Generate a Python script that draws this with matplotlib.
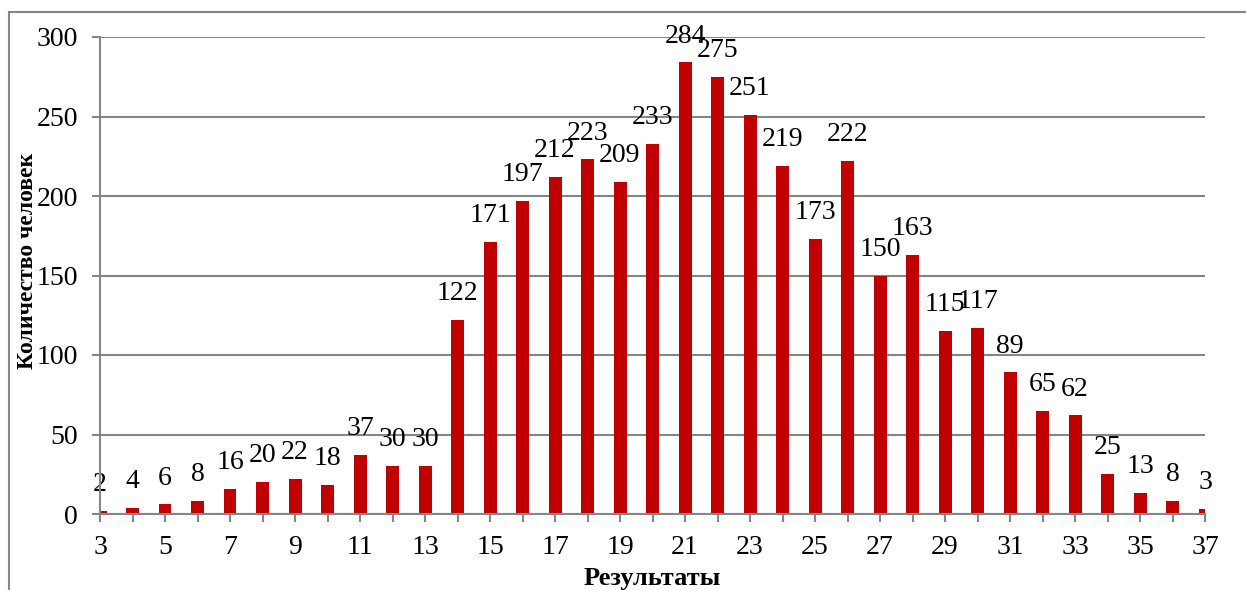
import matplotlib.pyplot as plt
import matplotlib.patches as patches
import numpy as np

scores = list(range(3, 38))
counts = [2, 4, 6, 8, 16, 20, 22, 18, 37, 30, 30, 122, 171, 197, 212, 223, 209,
          233, 284, 275, 251, 219, 173, 222, 150, 163, 115, 117, 89, 65, 62, 25,
          13, 8, 3]
tick_labels = [str(s) for s in range(3, 38, 2)]

plt.rcParams['font.family'] = ['Liberation Serif', 'DejaVu Serif']

fig = plt.figure(figsize=(12.46, 5.9), dpi=100)
ax = fig.add_axes([100 / 1246, 1 - 514 / 590, 1105 / 1246, 477 / 590])

grid_col = '#868686'

# outer chart frame (cropped at right and bottom)
fig.patches.append(patches.Rectangle((9 / 1246, -0.05), 1.2, 1 - 12 / 590 + 0.05,
                                     transform=fig.transFigure, fill=False,
                                     edgecolor=grid_col, linewidth=1.5))

ax.bar(scores, counts, width=0.4, color='#C00000', zorder=3)

for s, c in zip(scores, counts):
    ax.annotate(str(c), (s, c), xytext=(0, 10), textcoords='offset points',
                ha='center', va='bottom', fontsize=20, color='black',
                annotation_clip=False, zorder=4)

ax.set_xlim(3, 37)
ax.set_ylim(0, 300)
ax.set_yticks(np.arange(0, 301, 50))
ax.set_xticks(scores)
ax.set_xticklabels([str(s) if str(s) in tick_labels else '' for s in scores])

ax.yaxis.grid(True, color=grid_col, linewidth=1.5, zorder=0)
ax.set_axisbelow(True)
for side in ['top', 'right']:
    ax.spines[side].set_visible(False)
for side in ['left', 'bottom']:
    ax.spines[side].set_color(grid_col)
    ax.spines[side].set_linewidth(1.5)
    ax.spines[side].set_zorder(5)

ax.tick_params(axis='both', colors=grid_col, length=6, width=1.5,
               labelsize=20, labelcolor='black')
ax.tick_params(axis='y', pad=10)
ax.tick_params(axis='x', pad=9)

ax.set_ylabel('Количество человек', fontsize=17, fontweight='bold')
ax.yaxis.set_label_coords(-0.056, 0.53)
ax.set_xlabel('Результаты', fontsize=19, fontweight='bold', labelpad=5)

fig.savefig('out.png', dpi=100)
